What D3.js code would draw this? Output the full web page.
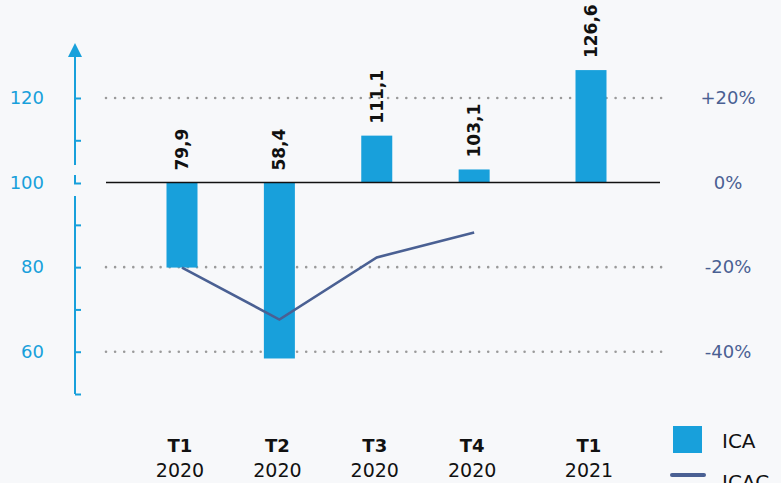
<!DOCTYPE html>
<html>
<head>
<meta charset="utf-8">
<script src="https://cdn.jsdelivr.net/npm/d3@7"></script>
<style>
    body { margin: 0; background: #f7f8fa; }
    svg { display: block; font-family: "DejaVu Sans", sans-serif; }
</style>
</head>
<body>
<div id="chart"></div>
<script>
// Quarters, with the year below each label
const quarters = ["T1", "T2", "T3", "T4", "T1"];
const years = ["2020", "2020", "2020", "2020", "2021"];
// ICA index (base 100) and ICAC variation in %
const icaValues = [79.9, 58.4, 111.1, 103.1, 126.6];
const icacValues = [-20.1, -32.4, -17.7, -11.8];
const leftTicks = [60, 80, 100, 120];
const rightTicks = [20, 0, -20, -40];

const width = 781, height = 483;
const blue = "#18a0db", slate = "#4a6093";

const svg = d3.select("#chart")
    .append("svg")
    .attr("width", width)
    .attr("height", height);

// x position: quarter index plus a small gap when the year changes
const slot = i => i + 0.2 * (+years[i] - 2020);
const x = d3.scaleLinear()
    .domain([0, slot(quarters.length - 1)])
    .range([182, 591]);

const y = d3.scaleLinear()
    .domain([50, 120])
    .range([394, 98]);

// right axis shares the same pixels, value = ICA - 100
const y2 = d3.scaleLinear()
    .domain([-50, 20])
    .range([394, 98]);

// dotted grid lines
svg.append("g")
    .selectAll("line")
    .data([120, 80, 60])
    .join("line")
    .attr("x1", 106)
    .attr("x2", 662)
    .attr("y1", d => y(d))
    .attr("y2", d => y(d))
    .attr("stroke", "#9a9a9a")
    .attr("stroke-width", 2.6)
    .attr("stroke-linecap", "round")
    .attr("stroke-dasharray", "0 9.1");

// bars from the 100 baseline
const barW = 31;
svg.append("g")
    .attr("fill", blue)
    .selectAll("rect")
    .data(icaValues)
    .join("rect")
    .attr("x", (d, i) => x(slot(i)) - barW / 2)
    .attr("y", d => y(Math.max(d, 100)))
    .attr("width", barW)
    .attr("height", d => Math.abs(y(d) - y(100)));

// baseline
svg.append("line")
    .attr("x1", 106)
    .attr("x2", 660)
    .attr("y1", y(100))
    .attr("y2", y(100))
    .attr("stroke", "#111")
    .attr("stroke-width", 1.5);

// ICAC line
svg.append("path")
    .datum(icacValues)
    .attr("fill", "none")
    .attr("stroke", slate)
    .attr("stroke-width", 2.6)
    .attr("d", d3.line().x((d, i) => x(slot(i))).y(d => y2(d)));

// value labels, rotated
svg.append("g")
    .attr("font-weight", "bold")
    .attr("font-size", 17)
    .attr("fill", "#111")
    .selectAll("text")
    .data(icaValues)
    .join("text")
    .attr("transform", (d, i) => `translate(${x(slot(i)) + 6},${y(Math.max(d, 100)) - 12}) rotate(-90)`)
    .text(d => d3.format(".1f")(d).replace(".", ","));

// left axis with a break near 100
const axisX = 75;
const axisG = svg.append("g").attr("stroke", blue).attr("stroke-width", 2);
axisG.append("line").attr("x1", axisX).attr("x2", axisX).attr("y1", 52).attr("y2", 165);
axisG.append("line").attr("x1", axisX).attr("x2", axisX).attr("y1", 196).attr("y2", y(50));
axisG.append("path")
    .attr("fill", "none")
    .attr("d", `M${axisX},175V${y(100) + 1}H${axisX + 6}`);
svg.append("path")
    .attr("fill", blue)
    .attr("d", `M${axisX},43L${axisX - 7},57H${axisX + 7}Z`);

svg.append("g")
    .attr("transform", `translate(${axisX},0)`)
    .call(d3.axisRight(y).tickValues(d3.range(50, 121, 10).filter(v => v !== 100)).tickSize(6).tickFormat(""))
    .call(g => g.select(".domain").remove())
    .call(g => g.selectAll(".tick line").attr("stroke", blue).attr("stroke-width", 2));

// left labels
svg.append("g")
    .attr("transform", "translate(44,0)")
    .call(d3.axisLeft(y).tickValues(leftTicks).tickSize(0).tickPadding(0))
    .call(g => g.select(".domain").remove())
    .call(g => g.selectAll("text")
        .attr("fill", blue)
        .attr("font-size", 18)
        .attr("font-family", "DejaVu Sans, sans-serif"));

// right labels
svg.append("g")
    .attr("transform", "translate(728,0)")
    .call(d3.axisRight(y2).tickValues(rightTicks).tickSize(0).tickPadding(0)
        .tickFormat(d => (d > 0 ? "+" : "") + d + "%"))
    .call(g => g.select(".domain").remove())
    .call(g => g.selectAll("text")
        .attr("fill", slate)
        .attr("text-anchor", "middle")
        .attr("font-size", 18)
        .attr("font-family", "DejaVu Sans, sans-serif"));

// x labels
const xl = svg.append("g")
    .attr("text-anchor", "middle")
    .attr("fill", "#111")
    .attr("font-size", 19)
    .selectAll("g")
    .data(quarters)
    .join("g")
    .attr("transform", (d, i) => `translate(${x(slot(i)) - 2},0)`);
xl.append("text").attr("y", 452).attr("font-weight", "bold").attr("font-size", 18).text(d => d);
xl.append("text").attr("y", 477).text((d, i) => years[i]);

// legend
svg.append("rect")
    .attr("x", 673).attr("y", 426).attr("width", 29).attr("height", 27)
    .attr("fill", blue);
svg.append("text")
    .attr("x", 722).attr("y", 448).attr("font-size", 20).attr("fill", "#111")
    .text("ICA");
svg.append("line")
    .attr("x1", 672).attr("x2", 704).attr("y1", 475).attr("y2", 475)
    .attr("stroke", slate).attr("stroke-width", 4).attr("stroke-linecap", "round");
svg.append("text")
    .attr("x", 722).attr("y", 489).attr("font-size", 20).attr("fill", "#111")
    .text("ICAC");
</script>
</body>
</html>
